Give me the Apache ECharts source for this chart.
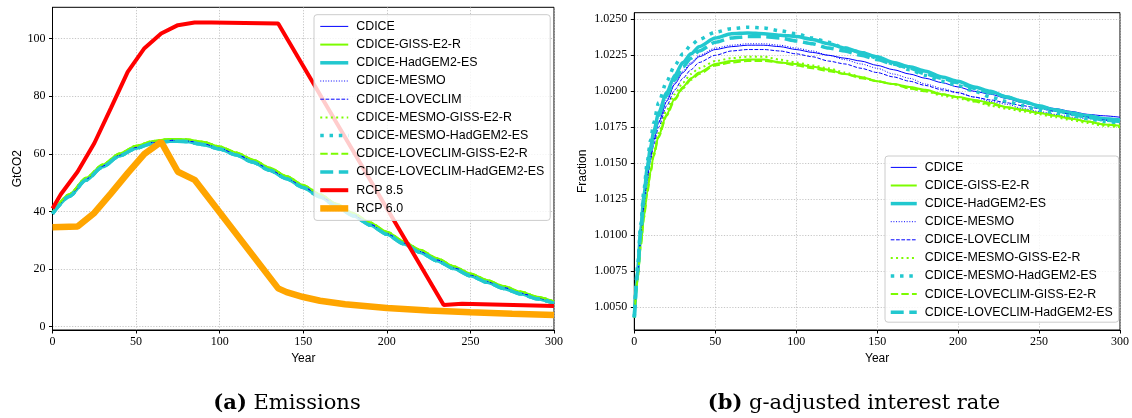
<!DOCTYPE html>
<html>
<head>
<meta charset="utf-8">
<script src="https://cdn.jsdelivr.net/npm/echarts@6/dist/echarts.min.js"></script>
<style>
  html, body { margin: 0; padding: 0; background: #fff; }
  #main { width: 1132px; height: 418px; }
</style>
</head>
<body>
<div id="main"></div>
<script>
// ---- (a) Emissions ----
var emisYears = [0, 10, 20, 30, 40, 50, 60, 70, 80, 90, 100, 110, 120, 130, 140, 150, 160, 170, 180, 190, 200, 210, 220, 230, 240, 250, 260, 270, 280, 290, 300];
var emisCdice = [39.4, 45.5, 51.2, 55.8, 59.6, 62.3, 64.0, 64.7, 64.6, 63.6, 62.0, 59.9, 57.4, 54.6, 51.7, 48.6, 45.4, 42.1, 38.8, 35.6, 32.4, 29.1, 26.1, 23.2, 20.5, 18.0, 15.7, 13.6, 11.7, 10.0, 8.4];
var emisGiss = [39.6, 46.0, 51.7, 56.3, 60.1, 62.8, 64.5, 65.2, 65.1, 64.2, 62.6, 60.5, 58.0, 55.2, 52.3, 49.2, 46.0, 42.7, 39.4, 36.2, 33.0, 29.7, 26.7, 23.8, 21.0, 18.5, 16.2, 14.1, 12.2, 10.4, 8.8];
var emisHad = [39.2, 45.2, 50.9, 55.5, 59.3, 62.0, 63.7, 64.4, 64.3, 63.3, 61.7, 59.6, 57.1, 54.3, 51.4, 48.3, 45.1, 41.8, 38.5, 35.3, 32.1, 28.8, 25.8, 22.9, 20.2, 17.7, 15.4, 13.3, 11.4, 9.7, 8.1];
var rcp85Years = [0, 5, 15, 25, 35, 45, 55, 65, 75, 85, 95, 135, 234, 245, 300];
var rcp85 = [41.0, 46.0, 53.8, 63.7, 76.0, 88.5, 96.7, 101.8, 104.7, 105.6, 105.6, 105.3, 7.5, 8.0, 7.2];
var rcp60Years = [0, 15, 25, 35, 45, 55, 65, 75, 85, 135, 140, 150, 160, 175, 200, 225, 250, 275, 300];
var rcp60 = [34.5, 34.8, 39.5, 46.3, 53.3, 60.0, 64.2, 53.8, 51.0, 13.3, 12.0, 10.3, 9.0, 7.8, 6.5, 5.6, 5.0, 4.5, 4.1];
var emisTicks = [0, 20, 40, 60, 80, 100];

// ---- (b) g-adjusted interest rate ----
var rateYears = [0, 2, 4, 6, 8, 10, 12, 15, 20, 25, 30, 35, 40, 50, 60, 70, 80, 90, 100, 110, 120, 130, 140, 150, 160, 170, 180, 190, 200, 210, 220, 230, 240, 250, 260, 270, 280, 290, 300];
var rateCdice = [1.0043, 1.0072, 1.0099, 1.0121, 1.0139, 1.0154, 1.0166, 1.0178, 1.0193, 1.0205, 1.0213, 1.0219, 1.0224, 1.0229, 1.0231, 1.0232, 1.0232, 1.0231, 1.0229, 1.0227, 1.0225, 1.0223, 1.0221, 1.0218, 1.0215, 1.0212, 1.0209, 1.0206, 1.0203, 1.0200, 1.0198, 1.0195, 1.0192, 1.0190, 1.0188, 1.0186, 1.0184, 1.0183, 1.0182];
var rateGiss = [1.0043, 1.0069, 1.0093, 1.0113, 1.0130, 1.0144, 1.0156, 1.0169, 1.0184, 1.0195, 1.0203, 1.0209, 1.0213, 1.0219, 1.0221, 1.0222, 1.0222, 1.0220, 1.0219, 1.0217, 1.0215, 1.0212, 1.0210, 1.0207, 1.0205, 1.0203, 1.0201, 1.0198, 1.0196, 1.0194, 1.0192, 1.0189, 1.0187, 1.0185, 1.0183, 1.0181, 1.0179, 1.0177, 1.0176];
var rateHad = [1.0043, 1.0075, 1.0104, 1.0128, 1.0147, 1.0161, 1.0172, 1.0185, 1.0199, 1.0211, 1.0220, 1.0226, 1.0231, 1.0237, 1.0240, 1.02405, 1.0240, 1.0239, 1.0238, 1.0236, 1.0233, 1.0230, 1.0227, 1.0224, 1.0220, 1.0217, 1.0214, 1.0210, 1.0207, 1.0203, 1.0200, 1.0196, 1.0193, 1.0190, 1.0187, 1.0185, 1.0183, 1.0181, 1.0180];
var rateMesmo = [1.0043, 1.0073, 1.0100, 1.0122, 1.0140, 1.0155, 1.0167, 1.0179, 1.0194, 1.0206, 1.0214, 1.0220, 1.0225, 1.0230, 1.0232, 1.0233, 1.0233, 1.0232, 1.0230, 1.0228, 1.0225, 1.0222, 1.0219, 1.0216, 1.0212, 1.0209, 1.0205, 1.0202, 1.0199, 1.0196, 1.0193, 1.0191, 1.0188, 1.0186, 1.0184, 1.0182, 1.0181, 1.0180, 1.0179];
var rateLove = [1.0043, 1.0071, 1.0097, 1.0119, 1.0137, 1.0152, 1.0163, 1.0175, 1.0190, 1.0201, 1.0209, 1.0215, 1.0220, 1.0225, 1.0228, 1.0229, 1.0229, 1.0228, 1.0226, 1.0224, 1.0221, 1.0219, 1.0216, 1.0213, 1.0210, 1.0207, 1.0204, 1.0201, 1.0199, 1.0196, 1.0194, 1.0192, 1.0190, 1.0188, 1.0186, 1.0184, 1.0182, 1.0180, 1.0179];
var rateMesmoGiss = [1.0043, 1.0070, 1.0095, 1.0115, 1.0132, 1.0146, 1.0158, 1.0171, 1.0187, 1.0198, 1.0206, 1.0212, 1.0216, 1.0221, 1.0223, 1.0224, 1.0224, 1.0222, 1.0220, 1.0218, 1.0216, 1.0213, 1.0210, 1.0207, 1.0205, 1.0202, 1.0200, 1.0197, 1.0195, 1.0193, 1.0190, 1.0188, 1.0186, 1.0184, 1.0182, 1.0180, 1.0178, 1.0176, 1.0175];
var rateMesmoHad = [1.0043, 1.0078, 1.0108, 1.0132, 1.0151, 1.0166, 1.0178, 1.0192, 1.0207, 1.0218, 1.0226, 1.0232, 1.0236, 1.0241, 1.02435, 1.02445, 1.0244, 1.0242, 1.0240, 1.0237, 1.0234, 1.0230, 1.0227, 1.0223, 1.0219, 1.0215, 1.0211, 1.0207, 1.0204, 1.0200, 1.0196, 1.0193, 1.0190, 1.0187, 1.0185, 1.0183, 1.0181, 1.0179, 1.0178];
var rateLoveGiss = [1.0043, 1.0069, 1.0092, 1.0112, 1.0129, 1.0143, 1.0155, 1.0168, 1.0183, 1.0194, 1.0202, 1.0208, 1.0212, 1.0218, 1.0220, 1.0221, 1.0221, 1.0220, 1.0218, 1.0216, 1.0214, 1.0212, 1.0209, 1.0207, 1.0205, 1.0202, 1.0200, 1.0198, 1.0196, 1.0193, 1.0191, 1.0189, 1.0187, 1.0185, 1.0183, 1.0181, 1.0179, 1.0177, 1.0176];
var rateLoveHad = [1.0043, 1.0074, 1.0102, 1.0126, 1.0145, 1.0159, 1.0170, 1.0183, 1.0197, 1.0208, 1.0217, 1.0223, 1.0228, 1.0234, 1.0237, 1.0238, 1.0238, 1.0237, 1.0235, 1.0233, 1.0230, 1.0228, 1.0225, 1.0222, 1.0219, 1.0216, 1.0212, 1.0209, 1.0206, 1.0202, 1.0199, 1.0196, 1.0193, 1.0189, 1.0187, 1.0184, 1.0182, 1.0180, 1.0179];
var rateTicks = [1.0050, 1.0075, 1.0100, 1.0125, 1.0150, 1.0175, 1.0200, 1.0225, 1.0250];

var modelNames = ['CDICE', 'CDICE-GISS-E2-R', 'CDICE-HadGEM2-ES', 'CDICE-MESMO', 'CDICE-LOVECLIM',
    'CDICE-MESMO-GISS-E2-R', 'CDICE-MESMO-HadGEM2-ES', 'CDICE-LOVECLIM-GISS-E2-R', 'CDICE-LOVECLIM-HadGEM2-ES'];

var BLUE = '#0000ff', GREEN = '#7cfc00', CYAN = '#22c8cf', RED = '#ff0000', ORANGE = '#ffa500';

// matplotlib-like dash patterns scaled by width
function dash(kind, w) {
    if (kind === 'dotted') return [w * 1, w * 1.65];
    if (kind === 'dashed') return [w * 3.7, w * 1.6];
    return 'solid';
}
// style per model: colour, width, line kind
var modelStyles = [
    [BLUE, 1, 'solid'], [GREEN, 2, 'solid'], [CYAN, 3.5, 'solid'],
    [BLUE, 1, 'dotted'], [BLUE, 1, 'dashed'],
    [GREEN, 2, 'dotted'], [CYAN, 3.5, 'dotted'],
    [GREEN, 2, 'dashed'], [CYAN, 3.5, 'dashed']
];

function pairs(xs, ys) {
    return xs.map(function (x, i) { return [x, ys[i]]; });
}

function lineSeries(name, xs, ys, st, idx, smooth) {
    return {
        name: name, type: 'line', xAxisIndex: idx, yAxisIndex: idx,
        data: pairs(xs, ys), symbol: 'none', smooth: smooth, smoothMonotone: 'x',
        lineStyle: { color: st[0], width: st[1], type: dash(st[2], st[1]), cap: 'butt' },
        itemStyle: { color: st[0] },
        emphasis: { disabled: true }
    };
}

// legend entries: line only, the marker is hidden
function legendItem(name, st) {
    return {
        name: name,
        lineStyle: { color: st[0], width: st[1], type: dash(st[2], st[1]) },
        itemStyle: { opacity: 0, color: 'rgba(0,0,0,0)', borderWidth: 0 }
    };
}
function legendData(extra) {
    var arr = modelNames.map(function (n, i) { return legendItem(n, modelStyles[i]); });
    return arr.concat(extra || []);
}

var emisSets = [emisCdice, emisGiss, emisHad, emisCdice, emisCdice, emisGiss, emisHad, emisGiss, emisHad];
var rateSets = [rateCdice, rateGiss, rateHad, rateMesmo, rateLove, rateMesmoGiss, rateMesmoHad, rateLoveGiss, rateLoveHad];

var rcp85Style = [RED, 4, 'solid'];
var rcp60Style = [ORANGE, 6.5, 'solid'];

var series = [];
modelNames.forEach(function (n, i) { series.push(lineSeries(n, emisYears, emisSets[i], modelStyles[i], 0, 0.25)); });
series.push(lineSeries('RCP 8.5', rcp85Years, rcp85, rcp85Style, 0, false));
series.push(lineSeries('RCP 6.0', rcp60Years, rcp60, rcp60Style, 0, false));
modelNames.forEach(function (n, i) { series.push(lineSeries(n, rateYears, rateSets[i], modelStyles[i], 1, 0.25)); });

var sansName = { fontFamily: 'Liberation Sans', fontSize: 12, color: '#000' };
var gridLine = { show: true, lineStyle: { color: '#b8b8b8', type: [1.2, 1.6], width: 0.8 } };

function xAxisCfg(idx) {
    return {
        type: 'value', gridIndex: idx, min: 0, max: 300, interval: 50,
        name: 'Year', nameLocation: 'middle', nameGap: 21, nameTextStyle: sansName,
        axisLine: { show: true, onZero: false, lineStyle: { color: '#000', width: 1 } },
        axisTick: { show: true, inside: false, length: 3.5, lineStyle: { color: '#000' } },
        axisLabel: { margin: 6, fontFamily: 'Liberation Serif', fontSize: 12, color: '#000' },
        splitLine: gridLine
    };
}

var legendCommon = {
    orient: 'vertical', itemWidth: 28, itemHeight: 14,
    backgroundColor: 'rgba(255,255,255,0.8)', borderColor: '#cccccc', borderWidth: 1, borderRadius: 3,
    textStyle: { fontFamily: 'Liberation Sans', fontSize: 12.4, color: '#000', padding: [0, 0, 0, 3] },
    itemStyle: { opacity: 0 },
    selectedMode: false
};

var captionRich = { b: { fontFamily: 'DejaVu Serif', fontSize: 21, fontWeight: 'bold' } };

var chart = echarts.init(document.getElementById('main'), null, { renderer: 'canvas' });
chart.setOption({
    animation: false,
    backgroundColor: '#fff',
    grid: [
        { left: 52.5, top: 7.3, width: 501.5, height: 322.7, show: true, borderColor: '#000', borderWidth: 1, backgroundColor: 'transparent' },
        { left: 634.3, top: 12.7, width: 487.4, height: 317.3, show: true, borderColor: '#000', borderWidth: 1, backgroundColor: 'transparent' }
    ],
    xAxis: [xAxisCfg(0), xAxisCfg(1)],
    yAxis: [
        {
            type: 'value', gridIndex: 0, min: -1.15, max: 110.9,
            name: 'GtCO2', nameLocation: 'middle', nameGap: 29, nameRotate: 90, nameTextStyle: sansName,
            axisLine: { show: true, onZero: false, lineStyle: { color: '#000', width: 1 } },
            axisTick: { show: true, length: 3.5, customValues: emisTicks, lineStyle: { color: '#000' } },
            axisLabel: { margin: 7, customValues: emisTicks, fontFamily: 'Liberation Serif', fontSize: 12, color: '#000' },
            splitLine: gridLine
        },
        {
            type: 'value', gridIndex: 1, min: 1.003425, max: 1.025458,
            name: 'Fraction', nameLocation: 'middle', nameGap: 46, nameRotate: 90, nameTextStyle: sansName,
            axisLine: { show: true, onZero: false, lineStyle: { color: '#000', width: 1 } },
            axisTick: { show: true, length: 3.5, customValues: rateTicks, lineStyle: { color: '#000' } },
            axisLabel: {
                margin: 7, customValues: rateTicks, fontFamily: 'Liberation Serif', fontSize: 12, color: '#000',
                formatter: function (v) { return v.toFixed(4); }
            },
            splitLine: gridLine
        }
    ],
    legend: [
        Object.assign({}, legendCommon, {
            left: 314, top: 14.7, itemGap: 6.2, padding: [5.7, 6, 6, 3],
            data: legendData([legendItem('RCP 8.5', rcp85Style), legendItem('RCP 6.0', rcp60Style)])
        }),
        Object.assign({}, legendCommon, {
            left: 885, top: 156, itemGap: 6.1, itemWidth: 26, padding: [5.4, 6, 4, 4],
            data: legendData([])
        })
    ],
    graphic: [
        {
            type: 'text',
            style: {
                text: '{b|(a)} Emissions', x: 287, y: 404, align: 'center', verticalAlign: 'middle',
                fontFamily: 'DejaVu Serif', fontSize: 21, fill: '#000', rich: captionRich
            }
        },
        {
            type: 'text',
            style: {
                text: '{b|(b)} g-adjusted interest rate', x: 854, y: 404, align: 'center', verticalAlign: 'middle',
                fontFamily: 'DejaVu Serif', fontSize: 21, fill: '#000', rich: captionRich
            }
        }
    ],
    series: series
});
</script>
</body>
</html>
